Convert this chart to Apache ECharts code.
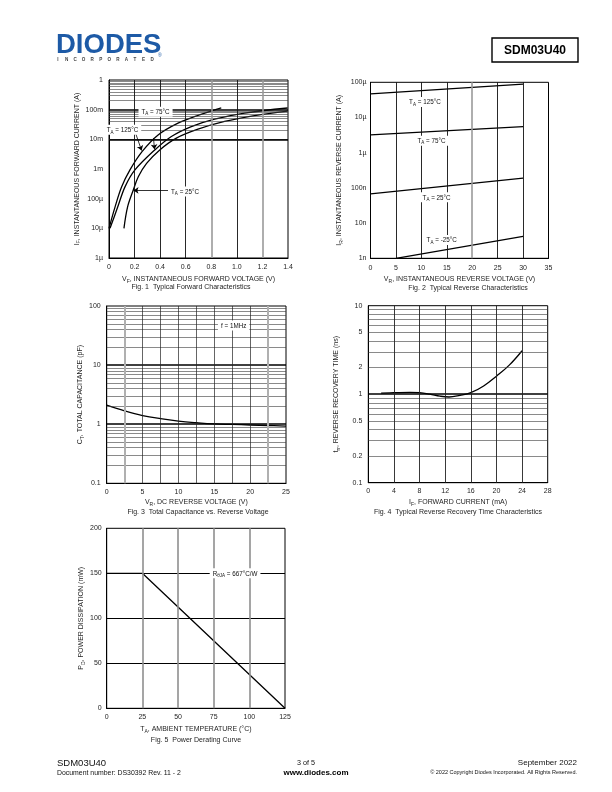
<!DOCTYPE html>
<html><head><meta charset="utf-8">
<script src="https://cdn.jsdelivr.net/npm/echarts@6/dist/echarts.min.js"></script>
<style>html,body{margin:0;padding:0;background:#fff}#c{width:612px;height:792px}</style>
</head><body><div id="c"></div>
<script>
// ================= DATA =================
// Fig 1 - Typical forward characteristics (V, A)
const fig1YTickLabels = ['1µ', '10µ', '100µ', '1m', '10m', '100m', '1'];
const fig1V125 = [0, 0.047, 0.099, 0.164, 0.26, 0.384, 0.54, 0.696, 0.878];
const fig1I125 = [1e-5, 5.2e-5, 2.5e-4, 9.3e-4, 3.9e-3, 1.4e-2, 3.5e-2, 6.4e-2, 0.114];
const fig1V75 = [0.008, 0.068, 0.125, 0.203, 0.358, 0.488, 0.644, 0.826, 1.06, 1.397];
const fig1I75 = [1e-5, 5.2e-5, 2.5e-4, 9.3e-4, 4.4e-3, 1.25e-2, 2.7e-2, 4.8e-2, 7.7e-2, 0.114];
const fig1V25 = [0.117, 0.145, 0.19, 0.229, 0.294, 0.397, 0.527, 0.696, 0.904, 1.138, 1.397];
const fig1I25 = [1e-5, 5.2e-5, 1.95e-4, 5.5e-4, 1.55e-3, 4.4e-3, 1.1e-2, 2.2e-2, 4.0e-2, 6.3e-2, 9.0e-2];

// Fig 2 - Typical reverse characteristics (V, A)
const fig2YTickLabels = ['1n', '10n', '100n', '1µ', '10µ', '100µ'];
const fig2V = [0, 30];
const fig2VMinus25 = [5, 30];
const fig2I125 = [4.7e-5, 8.9e-5];
const fig2I75 = [3.2e-6, 5.5e-6];
const fig2I25 = [6.8e-8, 1.9e-7];
const fig2IMinus25 = [1.0e-9, 4.2e-9];

// Fig 3 - Total capacitance vs reverse voltage (V, pF)
const fig3V = [0, 2.5, 5, 7.5, 10, 12.5, 15, 17.5, 20, 22.5, 25];
const fig3C = [2.1, 1.68, 1.4, 1.24, 1.13, 1.06, 1.01, 0.99, 0.97, 0.95, 0.93];

// Fig 4 - Reverse recovery time (mA, ns)
const fig4I = [2, 4, 6.5, 8, 9.6, 11.2, 12.6, 14.3, 16, 18, 20, 22, 24];
const fig4T = [1.03, 1.04, 1.05, 1.04, 1.0, 0.95, 0.93, 0.97, 1.04, 1.24, 1.6, 2.13, 3.1];
const fig4ExtraYLabels = [0.2, 0.5, 2, 5];

// Fig 5 - Power derating (°C, mW)
const fig5T = [0, 25, 125];
const fig5P = [150, 150, 0];

// Gridline positions (non-data)
const fig1VGrid = [0.2, 0.4, 0.6, 0.8, 1.0, 1.2];
const fig2VGrid = [5, 10, 15, 20, 25, 30];
const fig3VGrid = [2.5, 5, 7.5, 10, 12.5, 15, 17.5, 20, 22.5];
const fig4VGrid = [4, 8, 12, 16, 20, 24];
const fig5VGrid = [25, 50, 75, 100];
const fig5HGrid = [50, 100, 150];

// ================= HELPERS =================
const FF = '"Liberation Sans", Arial, sans-serif';
const TXT = '#1e1e1e';
const zip = (a, b) => a.map((v, i) => [v, b[i]]);
const logFmt = (labels, minExp) => v => { const k = Math.round(Math.log10(v)) - minExp; return labels[k] !== undefined ? labels[k] : ''; };
const ls = (color, width) => ({ color, width, type: 'solid' });
function logHGrid(minExp, maxExp) {
  const out = [];
  for (let e = minExp; e < maxExp; e++) {
    if (e > minExp) out.push({ yAxis: Math.pow(10, e), lineStyle: ls('#000', 1.6) });
    for (let m = 2; m <= 9; m++) out.push({ yAxis: m * Math.pow(10, e), lineStyle: ls('#3a3a3a', 0.6) });
  }
  return out;
}
const vLines = (vals, colorFn, widthFn) => vals.map((v, i) => ({ xAxis: v, lineStyle: ls(colorFn(v, i), widthFn(v, i)) }));
const hLines = (vals, color, width) => vals.map(v => ({ yAxis: v, lineStyle: ls(color, width) }));

const rich = {
  n: { fontSize: 7, fontFamily: FF, color: TXT, lineHeight: 10 },
  s: { fontSize: 5, fontFamily: FF, color: TXT, lineHeight: 10, verticalAlign: 'bottom' },
  t: { fontSize: 6.3, fontFamily: FF, color: '#111', lineHeight: 9 },
  u: { fontSize: 4.5, fontFamily: FF, color: '#111', lineHeight: 9, verticalAlign: 'bottom' }
};
const nm = (a, s, b) => `{n|${a}}{s|${s}}{n|${b}}`;
const an = (a, s, b) => `{t|${a}}{u|${s}}{t|${b}}`;

function gridSeries(idx, data) {
  return {
    type: 'line', xAxisIndex: idx, yAxisIndex: idx, data: [], z: 1, silent: true,
    markLine: { silent: true, symbol: ['none', 'none'], label: { show: false }, animation: false,
      lineStyle: { type: 'solid' }, data }
  };
}
function curve(idx, pts, smooth, extra) {
  return Object.assign({
    type: 'line', xAxisIndex: idx, yAxisIndex: idx, data: pts, z: 3, smooth: smooth,
    showSymbol: false, symbol: 'none', silent: true,
    lineStyle: { color: '#000', width: 1.3 }
  }, extra || {});
}
function labelPoints(items) {
  return {
    symbol: 'rect', symbolSize: [1, 1], silent: true, animation: false,
    itemStyle: { color: 'rgba(0,0,0,0)' },
    label: { show: true, position: 'inside', backgroundColor: '#fff', padding: [1, 3, 0, 3], rich },
    data: items.map(it => ({ coord: it.c, value: 0, label: { formatter: it.t } }))
  };
}
function arrows(items) {
  return {
    silent: true, animation: false, symbol: ['none', 'arrow'], symbolSize: 5,
    label: { show: false },
    lineStyle: { color: '#000', width: 0.8, type: 'solid' },
    data: items.map(it => [{ coord: it[0] }, { coord: it[1] }])
  };
}

const axisLbl = (extra) => Object.assign({ fontSize: 7, fontFamily: FF, color: TXT }, extra || {});
const baseAxis = { axisTick: { show: false }, splitLine: { show: false }, axisLine: { show: true, lineStyle: { color: '#000', width: 1 } } };

const grids = [
  { left: 109, top: 80, width: 179, height: 178 },
  { left: 370.5, top: 82.3, width: 178, height: 176 },
  { left: 106.7, top: 306, width: 179.3, height: 177.3 },
  { left: 368.3, top: 305.7, width: 179.4, height: 177 },
  { left: 106.7, top: 528.3, width: 178.3, height: 180 }
].map(g => Object.assign({ show: true, borderColor: '#000', borderWidth: 1, backgroundColor: '#fff', containLabel: false }, g));

const xAxes = [
  Object.assign({}, baseAxis, { type: 'value', gridIndex: 0, min: 0, max: 1.4, interval: 0.2,
    axisLabel: axisLbl({ margin: 6, formatter: v => v === 0 ? '0' : v.toFixed(1) }),
    name: nm('V', 'F', ', INSTANTANEOUS FORWARD VOLTAGE (V)'), nameLocation: 'middle', nameGap: 16, nameTextStyle: { rich } }),
  Object.assign({}, baseAxis, { type: 'value', gridIndex: 1, min: 0, max: 35, interval: 5,
    axisLabel: axisLbl({ margin: 6 }),
    name: nm('V', 'R', ', INSTANTANEOUS REVERSE VOLTAGE (V)'), nameLocation: 'middle', nameGap: 16, nameTextStyle: { rich } }),
  Object.assign({}, baseAxis, { type: 'value', gridIndex: 2, min: 0, max: 25, interval: 5,
    axisLabel: axisLbl({ margin: 5 }),
    name: nm('V', 'R', ', DC REVERSE VOLTAGE (V)'), nameLocation: 'middle', nameGap: 14, nameTextStyle: { rich } }),
  Object.assign({}, baseAxis, { type: 'value', gridIndex: 3, min: 0, max: 28, interval: 4,
    axisLabel: axisLbl({ margin: 5 }),
    name: nm('I', 'F', ', FORWARD CURRENT (mA)'), nameLocation: 'middle', nameGap: 14, nameTextStyle: { rich } }),
  Object.assign({}, baseAxis, { type: 'value', gridIndex: 4, min: 0, max: 125, interval: 25,
    axisLabel: axisLbl({ margin: 5 }),
    name: nm('T', 'A', ', AMBIENT TEMPERATURE (°C)'), nameLocation: 'middle', nameGap: 16, nameTextStyle: { rich } })
];

const yAxes = [
  Object.assign({}, baseAxis, { type: 'log', logBase: 10, gridIndex: 0, min: 1e-6, max: 1,
    axisLabel: axisLbl({ margin: 6, formatter: logFmt(fig1YTickLabels, -6) }),
    name: nm('I', 'F', ', INSTANTANEOUS FORWARD CURRENT (A)'), nameLocation: 'middle', nameGap: 25, nameTextStyle: { rich } }),
  Object.assign({}, baseAxis, { type: 'log', logBase: 10, gridIndex: 1, min: 1e-9, max: 1e-4,
    axisLabel: axisLbl({ margin: 4, formatter: logFmt(fig2YTickLabels, -9) }),
    name: nm('I', 'R', ', INSTANTANEOUS REVERSE CURRENT (A)'), nameLocation: 'middle', nameGap: 26, nameTextStyle: { rich } }),
  Object.assign({}, baseAxis, { type: 'log', logBase: 10, gridIndex: 2, min: 0.1, max: 100,
    axisLabel: axisLbl({ margin: 6, formatter: v => { const e = Math.round(Math.log10(v)); return e < 0 ? '0.1' : String(Math.pow(10, e)); } }),
    name: nm('C', 'T', ', TOTAL CAPACITANCE (pF)'), nameLocation: 'middle', nameGap: 21, nameTextStyle: { rich } }),
  Object.assign({}, baseAxis, { type: 'log', logBase: 10, gridIndex: 3, min: 0.1, max: 10,
    axisLabel: axisLbl({ margin: 6, formatter: v => { const e = Math.round(Math.log10(v)); return e < 0 ? '0.1' : String(Math.pow(10, e)); } }),
    name: nm('t', 'rr', ', REVERSE RECOVERY TIME (ns)'), nameLocation: 'middle', nameGap: 27, nameTextStyle: { rich } }),
  Object.assign({}, baseAxis, { type: 'value', gridIndex: 4, min: 0, max: 200, interval: 50,
    axisLabel: axisLbl({ margin: 5 }),
    name: nm('P', 'D', ', POWER DISSIPATION (mW)'), nameLocation: 'middle', nameGap: 21, nameTextStyle: { rich } })
];

// gridlines
const isGray1 = v => Math.abs(v - 0.8) < 1e-6 || Math.abs(v - 1.2) < 1e-6;
const g1 = logHGrid(-6, 0).concat(vLines(fig1VGrid, v => isGray1(v) ? '#9a9a9a' : '#111', v => isGray1(v) ? 1.6 : 0.9));
const g2 = logHGrid(-9, -4).concat(vLines(fig2VGrid, v => v === 20 ? '#9a9a9a' : '#111', v => v === 20 ? 1.6 : 0.9));
const g3 = logHGrid(-1, 2).concat(vLines(fig3VGrid, v => (v === 2.5 || v === 22.5) ? '#b0b0b0' : '#222', v => (v === 2.5 || v === 22.5) ? 2 : 0.7));
const fig4Extra = fig4ExtraYLabels.map(v => ({ yAxis: v, lineStyle: ls('#3a3a3a', 0.6),
  label: { show: true, position: 'start', distance: 6, formatter: String(v), fontSize: 7, fontFamily: FF, color: TXT } }));
const g4 = logHGrid(-1, 1).filter(d => fig4ExtraYLabels.indexOf(d.yAxis) < 0).concat(fig4Extra).concat(vLines(fig4VGrid, () => '#222', () => 0.9));
const g5 = hLines(fig5HGrid, '#000', 1).concat(vLines(fig5VGrid, () => '#8f8f8f', () => 1.6));

const series = [
  gridSeries(0, g1), gridSeries(1, g2), gridSeries(2, g3), gridSeries(3, g4), gridSeries(4, g5),
  // Fig 1
  curve(0, zip(fig1V125, fig1I125), 0.35, {
    markPoint: labelPoints([
      { c: [0.364, 0.0855], t: an('T', 'A', ' = 75°C') },
      { c: [0.105, 0.021], t: an('T', 'A', ' = 125°C') },
      { c: [0.595, 1.75e-4], t: an('T', 'A', ' = 25°C') }
    ]),
    markLine: arrows([
      [[0.208, 1.6e-2], [0.255, 4.2e-3]],
      [[0.348, 1.1e-2], [0.356, 4.6e-3]],
      [[0.462, 1.9e-4], [0.192, 1.9e-4]]
    ])
  }),
  curve(0, zip(fig1V75, fig1I75), 0.35),
  curve(0, zip(fig1V25, fig1I25), 0.35),
  // Fig 2
  curve(1, zip(fig2V, fig2I125), false, {
    markPoint: labelPoints([
      { c: [10.7, 2.75e-5], t: an('T', 'A', ' = 125°C') },
      { c: [12, 2.2e-6], t: an('T', 'A', ' = 75°C') },
      { c: [13, 5.4e-8], t: an('T', 'A', ' = 25°C') },
      { c: [14, 3.3e-9], t: an('T', 'A', ' = -25°C') }
    ])
  }),
  curve(1, zip(fig2V, fig2I75), false),
  curve(1, zip(fig2V, fig2I25), false),
  curve(1, zip(fig2VMinus25, fig2IMinus25), false),
  // Fig 3
  curve(2, zip(fig3V, fig3C), 0.4, {
    markPoint: labelPoints([{ c: [17.7, 47], t: '{t|f = 1MHz}' }])
  }),
  // Fig 4
  curve(3, zip(fig4I, fig4T), 0.4),
  // Fig 5
  curve(4, zip(fig5T, fig5P), false, {
    markPoint: labelPoints([{ c: [90, 150], t: an('R', 'θJA', ' = 667°C/W') }])
  })
];

// ================= PAGE TEXT =================
const txt = (x, y, text, size, opts) => Object.assign({
  type: 'text', x, y, silent: true,
  style: Object.assign({ text, fontSize: size, fontFamily: FF, fill: TXT, textAlign: 'left', textVerticalAlign: 'middle' }, (opts && opts.style) || {})
}, opts && opts.el || {});

const incLetters = 'INCORPORATED'.split('');
const graphic = [
  txt(56, 45, 'DIODES', 27.5, { style: { fontWeight: 900, fill: '#1d5aa6' } }),
  txt(158, 56, '®', 5, { style: { fill: '#1d5aa6' } })
].concat(incLetters.map((ch, i) => txt(58 + i * 8.55, 59.5, ch, 4.6, { style: { fontWeight: 'bold', fill: '#444', textAlign: 'center' } })))
.concat([
  { type: 'rect', silent: true, shape: { x: 492, y: 38, width: 86, height: 24 }, style: { fill: '#fff', stroke: '#000', lineWidth: 1.4 } },
  txt(535, 50.5, 'SDM03U40', 12, { style: { fontWeight: 'bold', fill: '#000', textAlign: 'center' } }),
  // captions
  txt(191, 287.5, 'Fig. 1  Typical Forward Characteristics', 7, { style: { textAlign: 'center' } }),
  txt(468, 288.5, 'Fig. 2  Typical Reverse Characteristics', 7, { style: { textAlign: 'center' } }),
  txt(198, 512.5, 'Fig. 3  Total Capacitance vs. Reverse Voltage', 7, { style: { textAlign: 'center' } }),
  txt(458, 512, 'Fig. 4  Typical Reverse Recovery Time Characteristics', 7, { style: { textAlign: 'center' } }),
  txt(196, 740.5, 'Fig. 5  Power Derating Curve', 7, { style: { textAlign: 'center' } }),
  // footer
  txt(57, 763, 'SDM03U40', 9.5, { style: { fill: '#111' } }),
  txt(57, 773, 'Document number: DS30392 Rev. 11 - 2', 6.9, { style: { fill: '#111' } }),
  txt(306, 763, '3 of 5', 7.2, { style: { fill: '#111', textAlign: 'center' } }),
  txt(316, 772.5, 'www.diodes.com', 8, { style: { fill: '#000', fontWeight: 'bold', textAlign: 'center' } }),
  txt(577, 763, 'September 2022', 8, { style: { fill: '#111', textAlign: 'right' } }),
  txt(577, 772.5, '© 2022 Copyright Diodes Incorporated. All Rights Reserved.', 5.5, { style: { fill: '#111', textAlign: 'right' } })
]);

const chart = echarts.init(document.getElementById('c'), null, { renderer: 'canvas', width: 612, height: 792 });
chart.setOption({
  backgroundColor: '#fff',
  animation: false,
  textStyle: { fontFamily: FF },
  grid: grids,
  xAxis: xAxes,
  yAxis: yAxes,
  series,
  graphic
});
</script></body></html>
